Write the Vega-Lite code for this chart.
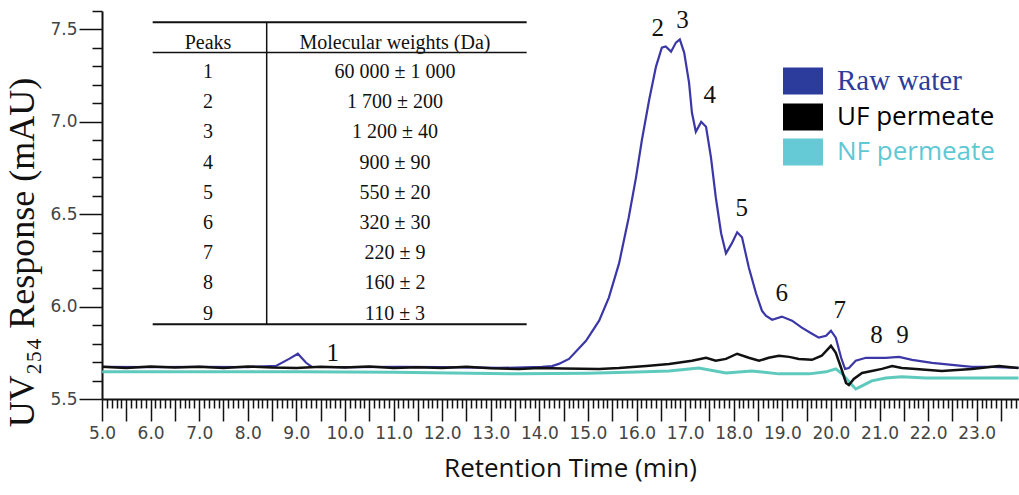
{
  "$schema": "https://vega.github.io/schema/vega-lite/v6.json",
  "width": 917,
  "height": 388,
  "autosize": "none",
  "padding": {"left": 102, "top": 11, "right": 0, "bottom": 96},
  "background": "white",
  "config": {"view": {"stroke": null}, "axis": {"grid": false}},
  "datasets": {
    "curves": [
      {"time": 5.0, "response": 5.647, "series": "NF permeate"},
      {"time": 7.0, "response": 5.648, "series": "NF permeate"},
      {"time": 9.05, "response": 5.647, "series": "NF permeate"},
      {"time": 11.0, "response": 5.645, "series": "NF permeate"},
      {"time": 13.58, "response": 5.636, "series": "NF permeate"},
      {"time": 15.0, "response": 5.64, "series": "NF permeate"},
      {"time": 16.0, "response": 5.646, "series": "NF permeate"},
      {"time": 16.67, "response": 5.652, "series": "NF permeate"},
      {"time": 17.28, "response": 5.668, "series": "NF permeate"},
      {"time": 17.84, "response": 5.641, "series": "NF permeate"},
      {"time": 18.37, "response": 5.652, "series": "NF permeate"},
      {"time": 18.93, "response": 5.636, "series": "NF permeate"},
      {"time": 19.55, "response": 5.636, "series": "NF permeate"},
      {"time": 19.9, "response": 5.647, "series": "NF permeate"},
      {"time": 20.1, "response": 5.663, "series": "NF permeate"},
      {"time": 20.23, "response": 5.636, "series": "NF permeate"},
      {"time": 20.41, "response": 5.582, "series": "NF permeate"},
      {"time": 20.51, "response": 5.554, "series": "NF permeate"},
      {"time": 20.64, "response": 5.571, "series": "NF permeate"},
      {"time": 20.84, "response": 5.598, "series": "NF permeate"},
      {"time": 21.13, "response": 5.614, "series": "NF permeate"},
      {"time": 21.46, "response": 5.62, "series": "NF permeate"},
      {"time": 21.95, "response": 5.614, "series": "NF permeate"},
      {"time": 22.63, "response": 5.614, "series": "NF permeate"},
      {"time": 23.86, "response": 5.614, "series": "NF permeate"},

      {"time": 5.0, "response": 5.674, "series": "Raw water"},
      {"time": 6.0, "response": 5.672, "series": "Raw water"},
      {"time": 7.0, "response": 5.674, "series": "Raw water"},
      {"time": 8.0, "response": 5.673, "series": "Raw water"},
      {"time": 8.58, "response": 5.679, "series": "Raw water"},
      {"time": 8.85, "response": 5.717, "series": "Raw water"},
      {"time": 9.03, "response": 5.745, "series": "Raw water"},
      {"time": 9.2, "response": 5.696, "series": "Raw water"},
      {"time": 9.32, "response": 5.674, "series": "Raw water"},
      {"time": 10.0, "response": 5.673, "series": "Raw water"},
      {"time": 11.11, "response": 5.674, "series": "Raw water"},
      {"time": 12.0, "response": 5.672, "series": "Raw water"},
      {"time": 13.17, "response": 5.668, "series": "Raw water"},
      {"time": 14.05, "response": 5.674, "series": "Raw water"},
      {"time": 14.26, "response": 5.678, "series": "Raw water"},
      {"time": 14.4, "response": 5.69, "series": "Raw water"},
      {"time": 14.61, "response": 5.717, "series": "Raw water"},
      {"time": 14.96, "response": 5.815, "series": "Raw water"},
      {"time": 15.23, "response": 5.924, "series": "Raw water"},
      {"time": 15.43, "response": 6.049, "series": "Raw water"},
      {"time": 15.64, "response": 6.234, "series": "Raw water"},
      {"time": 15.84, "response": 6.484, "series": "Raw water"},
      {"time": 15.99, "response": 6.701, "series": "Raw water"},
      {"time": 16.11, "response": 6.902, "series": "Raw water"},
      {"time": 16.26, "response": 7.12, "series": "Raw water"},
      {"time": 16.4, "response": 7.299, "series": "Raw water"},
      {"time": 16.52, "response": 7.402, "series": "Raw water"},
      {"time": 16.6, "response": 7.408, "series": "Raw water"},
      {"time": 16.71, "response": 7.38, "series": "Raw water"},
      {"time": 16.81, "response": 7.429, "series": "Raw water"},
      {"time": 16.89, "response": 7.446, "series": "Raw water"},
      {"time": 16.98, "response": 7.375, "series": "Raw water"},
      {"time": 17.08, "response": 7.212, "series": "Raw water"},
      {"time": 17.14, "response": 7.049, "series": "Raw water"},
      {"time": 17.22, "response": 6.946, "series": "Raw water"},
      {"time": 17.33, "response": 7.0, "series": "Raw water"},
      {"time": 17.43, "response": 6.973, "series": "Raw water"},
      {"time": 17.53, "response": 6.81, "series": "Raw water"},
      {"time": 17.63, "response": 6.592, "series": "Raw water"},
      {"time": 17.74, "response": 6.397, "series": "Raw water"},
      {"time": 17.84, "response": 6.288, "series": "Raw water"},
      {"time": 17.96, "response": 6.342, "series": "Raw water"},
      {"time": 18.07, "response": 6.402, "series": "Raw water"},
      {"time": 18.17, "response": 6.375, "series": "Raw water"},
      {"time": 18.31, "response": 6.212, "series": "Raw water"},
      {"time": 18.46, "response": 6.071, "series": "Raw water"},
      {"time": 18.58, "response": 5.978, "series": "Raw water"},
      {"time": 18.66, "response": 5.951, "series": "Raw water"},
      {"time": 18.79, "response": 5.929, "series": "Raw water"},
      {"time": 18.99, "response": 5.946, "series": "Raw water"},
      {"time": 19.2, "response": 5.924, "series": "Raw water"},
      {"time": 19.4, "response": 5.886, "series": "Raw water"},
      {"time": 19.61, "response": 5.853, "series": "Raw water"},
      {"time": 19.75, "response": 5.832, "series": "Raw water"},
      {"time": 19.9, "response": 5.842, "series": "Raw water"},
      {"time": 20.0, "response": 5.87, "series": "Raw water"},
      {"time": 20.1, "response": 5.832, "series": "Raw water"},
      {"time": 20.21, "response": 5.723, "series": "Raw water"},
      {"time": 20.29, "response": 5.663, "series": "Raw water"},
      {"time": 20.37, "response": 5.668, "series": "Raw water"},
      {"time": 20.51, "response": 5.707, "series": "Raw water"},
      {"time": 20.72, "response": 5.723, "series": "Raw water"},
      {"time": 20.93, "response": 5.723, "series": "Raw water"},
      {"time": 21.13, "response": 5.723, "series": "Raw water"},
      {"time": 21.4, "response": 5.728, "series": "Raw water"},
      {"time": 21.67, "response": 5.712, "series": "Raw water"},
      {"time": 22.08, "response": 5.696, "series": "Raw water"},
      {"time": 22.49, "response": 5.685, "series": "Raw water"},
      {"time": 22.9, "response": 5.674, "series": "Raw water"},
      {"time": 23.31, "response": 5.674, "series": "Raw water"},
      {"time": 23.86, "response": 5.668, "series": "Raw water"},

      {"time": 5.0, "response": 5.674, "series": "UF permeate"},
      {"time": 5.5, "response": 5.668, "series": "UF permeate"},
      {"time": 6.0, "response": 5.676, "series": "UF permeate"},
      {"time": 6.5, "response": 5.67, "series": "UF permeate"},
      {"time": 7.0, "response": 5.674, "series": "UF permeate"},
      {"time": 7.5, "response": 5.668, "series": "UF permeate"},
      {"time": 8.0, "response": 5.676, "series": "UF permeate"},
      {"time": 8.5, "response": 5.67, "series": "UF permeate"},
      {"time": 9.0, "response": 5.668, "series": "UF permeate"},
      {"time": 9.5, "response": 5.674, "series": "UF permeate"},
      {"time": 10.0, "response": 5.67, "series": "UF permeate"},
      {"time": 10.5, "response": 5.676, "series": "UF permeate"},
      {"time": 11.0, "response": 5.668, "series": "UF permeate"},
      {"time": 11.5, "response": 5.672, "series": "UF permeate"},
      {"time": 12.0, "response": 5.668, "series": "UF permeate"},
      {"time": 12.5, "response": 5.674, "series": "UF permeate"},
      {"time": 13.0, "response": 5.666, "series": "UF permeate"},
      {"time": 13.58, "response": 5.663, "series": "UF permeate"},
      {"time": 14.0, "response": 5.668, "series": "UF permeate"},
      {"time": 14.5, "response": 5.665, "series": "UF permeate"},
      {"time": 15.23, "response": 5.663, "series": "UF permeate"},
      {"time": 15.64, "response": 5.668, "series": "UF permeate"},
      {"time": 16.2, "response": 5.679, "series": "UF permeate"},
      {"time": 16.67, "response": 5.69, "series": "UF permeate"},
      {"time": 17.14, "response": 5.707, "series": "UF permeate"},
      {"time": 17.43, "response": 5.723, "series": "UF permeate"},
      {"time": 17.63, "response": 5.707, "series": "UF permeate"},
      {"time": 17.84, "response": 5.717, "series": "UF permeate"},
      {"time": 18.07, "response": 5.745, "series": "UF permeate"},
      {"time": 18.31, "response": 5.723, "series": "UF permeate"},
      {"time": 18.52, "response": 5.707, "series": "UF permeate"},
      {"time": 18.72, "response": 5.723, "series": "UF permeate"},
      {"time": 18.93, "response": 5.734, "series": "UF permeate"},
      {"time": 19.14, "response": 5.728, "series": "UF permeate"},
      {"time": 19.34, "response": 5.717, "series": "UF permeate"},
      {"time": 19.61, "response": 5.712, "series": "UF permeate"},
      {"time": 19.81, "response": 5.734, "series": "UF permeate"},
      {"time": 20.0, "response": 5.788, "series": "UF permeate"},
      {"time": 20.1, "response": 5.75, "series": "UF permeate"},
      {"time": 20.21, "response": 5.668, "series": "UF permeate"},
      {"time": 20.31, "response": 5.587, "series": "UF permeate"},
      {"time": 20.37, "response": 5.576, "series": "UF permeate"},
      {"time": 20.47, "response": 5.609, "series": "UF permeate"},
      {"time": 20.64, "response": 5.641, "series": "UF permeate"},
      {"time": 20.84, "response": 5.652, "series": "UF permeate"},
      {"time": 21.05, "response": 5.663, "series": "UF permeate"},
      {"time": 21.26, "response": 5.679, "series": "UF permeate"},
      {"time": 21.46, "response": 5.668, "series": "UF permeate"},
      {"time": 21.75, "response": 5.663, "series": "UF permeate"},
      {"time": 22.28, "response": 5.652, "series": "UF permeate"},
      {"time": 22.9, "response": 5.663, "series": "UF permeate"},
      {"time": 23.46, "response": 5.679, "series": "UF permeate"},
      {"time": 23.86, "response": 5.668, "series": "UF permeate"}
    ],
    "tablelines": [
      {"x1": 6.043, "x2": 13.739, "y1": 7.539, "y2": 7.539, "w": 2},
      {"x1": 6.043, "x2": 13.739, "y1": 7.376, "y2": 7.376, "w": 1.5},
      {"x1": 6.043, "x2": 13.739, "y1": 5.904, "y2": 5.904, "w": 2},
      {"x1": 8.389, "x2": 8.389, "y1": 5.904, "y2": 7.539, "w": 1.5}
    ],
    "tabletext": [
      {"tx": 7.181, "ty": 7.429, "label": "Peaks"},
      {"tx": 11.029, "ty": 7.429, "label": "Molecular weights (Da)"},
      {"tx": 7.181, "ty": 7.27, "label": "1"},
      {"tx": 11.029, "ty": 7.27, "label": "60 000 ± 1 000"},
      {"tx": 7.181, "ty": 7.1065, "label": "2"},
      {"tx": 11.029, "ty": 7.1065, "label": "1 700 ± 200"},
      {"tx": 7.181, "ty": 6.943, "label": "3"},
      {"tx": 11.029, "ty": 6.943, "label": "1 200 ± 40"},
      {"tx": 7.181, "ty": 6.7795, "label": "4"},
      {"tx": 11.029, "ty": 6.7795, "label": "900 ± 90"},
      {"tx": 7.181, "ty": 6.616, "label": "5"},
      {"tx": 11.029, "ty": 6.616, "label": "550 ± 20"},
      {"tx": 7.181, "ty": 6.4525, "label": "6"},
      {"tx": 11.029, "ty": 6.4525, "label": "320 ± 30"},
      {"tx": 7.181, "ty": 6.289, "label": "7"},
      {"tx": 11.029, "ty": 6.289, "label": "220 ± 9"},
      {"tx": 7.181, "ty": 6.1255, "label": "8"},
      {"tx": 11.029, "ty": 6.1255, "label": "160 ± 2"},
      {"tx": 7.181, "ty": 5.962, "label": "9"},
      {"tx": 11.029, "ty": 5.962, "label": "110 ± 3"}
    ],
    "peaks": [
      {"px": 9.747, "py": 5.747, "peak": "1"},
      {"px": 16.434, "py": 7.506, "peak": "2"},
      {"px": 16.948, "py": 7.55, "peak": "3"},
      {"px": 17.504, "py": 7.144, "peak": "4"},
      {"px": 18.163, "py": 6.532, "peak": "5"},
      {"px": 18.986, "py": 6.072, "peak": "6"},
      {"px": 20.179, "py": 5.98, "peak": "7"},
      {"px": 20.94, "py": 5.844, "peak": "8"},
      {"px": 21.475, "py": 5.844, "peak": "9"}
    ]
  },
  "layer": [
    {
      "data": {"name": "curves"},
      "transform": [{"filter": "datum.series === 'NF permeate'"}],
      "mark": {"type": "line", "strokeWidth": 3, "opacity": 0.9},
      "encoding": {
        "x": {
          "field": "time", "type": "quantitative",
          "scale": {"domain": [5, 23.87], "nice": false, "zero": false},
          "axis": {
            "title": "Retention Time (min)",
            "values": [5,5.1,5.2,5.3,5.4,5.5,5.6,5.7,5.8,5.9,6,6.1,6.2,6.3,6.4,6.5,6.6,6.7,6.8,6.9,7,7.1,7.2,7.3,7.4,7.5,7.6,7.7,7.8,7.9,8,8.1,8.2,8.3,8.4,8.5,8.6,8.7,8.8,8.9,9,9.1,9.2,9.3,9.4,9.5,9.6,9.7,9.8,9.9,10,10.1,10.2,10.3,10.4,10.5,10.6,10.7,10.8,10.9,11,11.1,11.2,11.3,11.4,11.5,11.6,11.7,11.8,11.9,12,12.1,12.2,12.3,12.4,12.5,12.6,12.7,12.8,12.9,13,13.1,13.2,13.3,13.4,13.5,13.6,13.7,13.8,13.9,14,14.1,14.2,14.3,14.4,14.5,14.6,14.7,14.8,14.9,15,15.1,15.2,15.3,15.4,15.5,15.6,15.7,15.8,15.9,16,16.1,16.2,16.3,16.4,16.5,16.6,16.7,16.8,16.9,17,17.1,17.2,17.3,17.4,17.5,17.6,17.7,17.8,17.9,18,18.1,18.2,18.3,18.4,18.5,18.6,18.7,18.8,18.9,19,19.1,19.2,19.3,19.4,19.5,19.6,19.7,19.8,19.9,20,20.1,20.2,20.3,20.4,20.5,20.6,20.7,20.8,20.9,21,21.1,21.2,21.3,21.4,21.5,21.6,21.7,21.8,21.9,22,22.1,22.2,22.3,22.4,22.5,22.6,22.7,22.8,22.9,23,23.1,23.2,23.3,23.4,23.5,23.6,23.7,23.8],
            "tickCount": 1000,
            "labelExpr": "abs(datum.value - round(datum.value)) < 0.01 ? format(datum.value, '.1f') : ''",
            "tickSize": {"condition": {"test": "abs(datum.value*2 - round(datum.value*2)) < 0.01", "value": 22}, "value": 9},
            "tickWidth": 1.5,
            "tickColor": "#111111",
            "domainColor": "#111111",
            "domainWidth": 2,
            "labelFont": "DejaVu Sans",
            "labelFontSize": 17,
            "labelColor": "#444444",
            "labelPadding": 4,
            "labelOverlap": false,
            "labelFlush": false,
            "labelBound": false,
            "titleFont": "Open Sans",
            "titleFontSize": 26,
            "titleFontWeight": "normal",
            "titleColor": "#111111",
            "titleX": 468,
            "titleY": 77,
            "titleBaseline": "alphabetic"
          }
        },
        "y": {
          "field": "response", "type": "quantitative",
          "scale": {"domain": [5.5, 7.6], "nice": false, "zero": false},
          "axis": {
            "title": "UV₂₅₄ Response (mAU)",
            "values": [5.5,5.6,5.7,5.8,5.9,6,6.1,6.2,6.3,6.4,6.5,6.6,6.7,6.8,6.9,7,7.1,7.2,7.3,7.4,7.5,7.6],
            "tickCount": 1000,
            "labelExpr": "abs(datum.value*2 - round(datum.value*2)) < 0.01 ? format(datum.value, '.1f') : ''",
            "tickSize": {"condition": {"test": "abs(datum.value*2 - round(datum.value*2)) < 0.01", "value": 23}, "value": 10},
            "tickWidth": 1.5,
            "tickColor": "#111111",
            "domainColor": "#111111",
            "domainWidth": 2,
            "labelFont": "DejaVu Sans",
            "labelFontSize": 17,
            "labelColor": "#444444",
            "labelPadding": 2,
            "labelOverlap": false,
            "labelFlush": false,
            "labelBound": false,
            "titleFont": "Liberation Serif",
            "titleFontSize": 36,
            "titleFontWeight": "normal",
            "titleColor": "#111111",
            "titleX": -80,
            "titleY": 241,
            "titleBaseline": "middle",
            "titleAlign": "center"
          }
        },
        "color": {
          "field": "series", "type": "nominal",
          "scale": {"domain": ["Raw water", "UF permeate", "NF permeate"], "range": ["#3b37a6", "#111111", "#4cc3b6"]},
          "legend": {
            "orient": "none",
            "legendX": 681,
            "legendY": 50,
            "title": null,
            "padding": 0,
            "symbolType": "M-1,-0.675H1V0.675H-1Z",
            "symbolSize": 1600,
            "symbolStrokeWidth": 0,
            "labelOffset": 14,
            "rowPadding": 1,
            "labelFont": "Open Sans",
            "labelFontSize": 26,
            "labelLimit": 400,
            "encode": {
              "symbols": {"update": {
                "fill": {"signal": "datum.value === 'Raw water' ? '#2b3c9c' : datum.value === 'UF permeate' ? '#000000' : '#66c9d6'"},
                "stroke": {"value": "transparent"},
                "opacity": {"value": 1}
              }},
              "labels": {"update": {
                "fill": {"signal": "datum.value === 'Raw water' ? '#2b3c9c' : datum.value === 'UF permeate' ? '#000000' : '#5ec8d4'"},
                "font": {"signal": "datum.value === 'Raw water' ? 'Liberation Serif' : 'Open Sans'"},
                "fontSize": {"signal": "datum.value === 'Raw water' ? 29 : 26"}
              }}
            }
          }
        }
      }
    },
    {
      "data": {"name": "curves"},
      "transform": [{"filter": "datum.series === 'Raw water'"}],
      "mark": {"type": "line", "strokeWidth": 2.2},
      "encoding": {
        "x": {"field": "time", "type": "quantitative"},
        "y": {"field": "response", "type": "quantitative"},
        "color": {
          "field": "series", "type": "nominal",
          "legend": {
            "orient": "none",
            "legendX": 681,
            "legendY": 50,
            "title": null,
            "padding": 0,
            "symbolType": "M-1,-0.675H1V0.675H-1Z",
            "symbolSize": 1600,
            "symbolStrokeWidth": 0,
            "labelOffset": 14,
            "rowPadding": 1,
            "labelFont": "Open Sans",
            "labelFontSize": 26,
            "labelLimit": 400,
            "encode": {
              "symbols": {"update": {
                "fill": {"signal": "datum.value === 'Raw water' ? '#2b3c9c' : datum.value === 'UF permeate' ? '#000000' : '#66c9d6'"},
                "stroke": {"value": "transparent"},
                "opacity": {"value": 1}
              }},
              "labels": {"update": {
                "fill": {"signal": "datum.value === 'Raw water' ? '#2b3c9c' : datum.value === 'UF permeate' ? '#000000' : '#5ec8d4'"},
                "font": {"signal": "datum.value === 'Raw water' ? 'Liberation Serif' : 'Open Sans'"},
                "fontSize": {"signal": "datum.value === 'Raw water' ? 29 : 26"}
              }}
            }
          }
        }
      }
    },
    {
      "data": {"name": "curves"},
      "transform": [{"filter": "datum.series === 'UF permeate'"}],
      "mark": {"type": "line", "strokeWidth": 2.5},
      "encoding": {
        "x": {"field": "time", "type": "quantitative"},
        "y": {"field": "response", "type": "quantitative"},
        "color": {
          "field": "series", "type": "nominal",
          "legend": {
            "orient": "none",
            "legendX": 681,
            "legendY": 50,
            "title": null,
            "padding": 0,
            "symbolType": "M-1,-0.675H1V0.675H-1Z",
            "symbolSize": 1600,
            "symbolStrokeWidth": 0,
            "labelOffset": 14,
            "rowPadding": 1,
            "labelFont": "Open Sans",
            "labelFontSize": 26,
            "labelLimit": 400,
            "encode": {
              "symbols": {"update": {
                "fill": {"signal": "datum.value === 'Raw water' ? '#2b3c9c' : datum.value === 'UF permeate' ? '#000000' : '#66c9d6'"},
                "stroke": {"value": "transparent"},
                "opacity": {"value": 1}
              }},
              "labels": {"update": {
                "fill": {"signal": "datum.value === 'Raw water' ? '#2b3c9c' : datum.value === 'UF permeate' ? '#000000' : '#5ec8d4'"},
                "font": {"signal": "datum.value === 'Raw water' ? 'Liberation Serif' : 'Open Sans'"},
                "fontSize": {"signal": "datum.value === 'Raw water' ? 29 : 26"}
              }}
            }
          }
        }
      }
    },
    {
      "data": {"name": "tablelines"},
      "mark": {"type": "rule", "color": "#111111"},
      "encoding": {
        "x": {"field": "x1", "type": "quantitative"},
        "x2": {"field": "x2"},
        "y": {"field": "y1", "type": "quantitative"},
        "y2": {"field": "y2"},
        "strokeWidth": {"field": "w", "type": "quantitative", "scale": null}
      }
    },
    {
      "data": {"name": "tabletext"},
      "mark": {"type": "text", "font": "Liberation Serif", "fontSize": 20, "color": "#111111", "align": "center", "baseline": "middle"},
      "encoding": {
        "x": {"field": "tx", "type": "quantitative"},
        "y": {"field": "ty", "type": "quantitative"},
        "text": {"field": "label"}
      }
    },
    {
      "data": {"name": "peaks"},
      "mark": {"type": "text", "font": "Liberation Serif", "fontSize": 25, "color": "#111111", "align": "center", "baseline": "middle"},
      "encoding": {
        "x": {"field": "px", "type": "quantitative"},
        "y": {"field": "py", "type": "quantitative"},
        "text": {"field": "peak"}
      }
    }
  ]
}
